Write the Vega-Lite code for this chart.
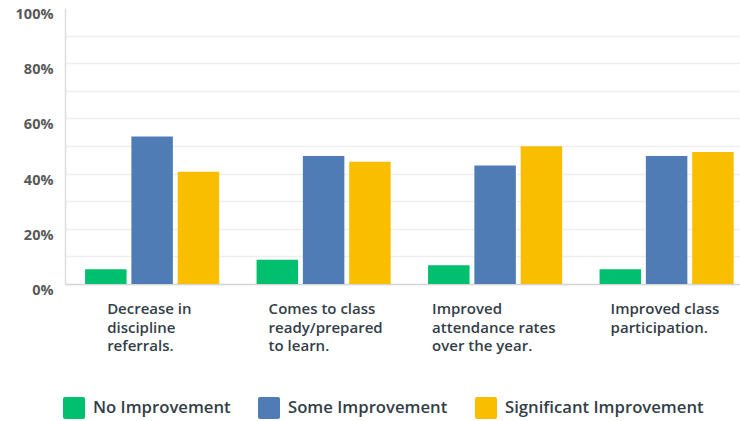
{
  "$schema": "https://vega.github.io/schema/vega-lite/v6.json",
  "width": 675,
  "height": 276,
  "autosize": {"type": "none"},
  "padding": {"left": 65, "top": 8, "right": 0, "bottom": 137},
  "background": "white",
  "config": {"view": {"stroke": null}, "font": "Open Sans"},
  "data": {
    "values": [
      {"item": "Decrease in discipline referrals.", "response": "No Improvement", "pct": 0.053},
      {"item": "Decrease in discipline referrals.", "response": "Some Improvement", "pct": 0.534},
      {"item": "Decrease in discipline referrals.", "response": "Significant Improvement", "pct": 0.407},
      {"item": "Comes to class ready/prepared to learn.", "response": "No Improvement", "pct": 0.088},
      {"item": "Comes to class ready/prepared to learn.", "response": "Some Improvement", "pct": 0.464},
      {"item": "Comes to class ready/prepared to learn.", "response": "Significant Improvement", "pct": 0.443},
      {"item": "Improved attendance rates over the year.", "response": "No Improvement", "pct": 0.068},
      {"item": "Improved attendance rates over the year.", "response": "Some Improvement", "pct": 0.429},
      {"item": "Improved attendance rates over the year.", "response": "Significant Improvement", "pct": 0.499},
      {"item": "Improved class participation.", "response": "No Improvement", "pct": 0.053},
      {"item": "Improved class participation.", "response": "Some Improvement", "pct": 0.464},
      {"item": "Improved class participation.", "response": "Significant Improvement", "pct": 0.478}
    ]
  },
  "mark": {"type": "bar"},
  "encoding": {
    "x": {
      "field": "item",
      "type": "nominal",
      "sort": ["Decrease in discipline referrals.", "Comes to class ready/prepared to learn.", "Improved attendance rates over the year.", "Improved class participation."],
      "scale": {"paddingInner": 0.218, "paddingOuter": 0.077, "align": 0.76},
      "axis": {
        "title": null,
        "labelAngle": 0,
        "labelAlign": "left",
        "labelBaseline": "top",
        "labelPadding": 17.5,
        "labelFont": "Open Sans",
        "labelFontSize": 15,
        "labelFontWeight": 600,
        "labelColor": "#333e48",
        "labelLineHeight": 18.7,
        "labelLimit": 0,
        "labelExpr": "datum.value === 'Decrease in discipline referrals.' ? ['Decrease in','discipline','referrals.'] : datum.value === 'Comes to class ready/prepared to learn.' ? ['Comes to class','ready/prepared','to learn.'] : datum.value === 'Improved attendance rates over the year.' ? ['Improved','attendance rates','over the year.'] : ['Improved class','participation.']",
        "labelOffset": {
          "condition": [
            {"test": "datum.value === 'Decrease in discipline referrals.'", "value": -45},
            {"test": "datum.value === 'Comes to class ready/prepared to learn.'", "value": -55},
            {"test": "datum.value === 'Improved attendance rates over the year.'", "value": -63}
          ],
          "value": -56
        },
        "ticks": false,
        "domainColor": "#d5d5d5",
        "domainWidth": 1.5,
        "grid": false
      }
    },
    "xOffset": {
      "field": "response",
      "type": "nominal",
      "sort": ["No Improvement", "Some Improvement", "Significant Improvement"],
      "scale": {"paddingInner": 0.104, "paddingOuter": 0}
    },
    "y": {
      "field": "pct",
      "type": "quantitative",
      "scale": {"domain": [0, 1]},
      "axis": {
        "title": null,
        "values": [0, 0.1, 0.2, 0.3, 0.4, 0.5, 0.6, 0.7, 0.8, 0.9, 1],
        "format": "%",
        "labelExpr": "round(datum.value * 100) % 20 === 0 ? datum.label : ''",
        "labelOverlap": false,
        "ticks": false,
        "labelPadding": 12,
        "labelFont": "Open Sans",
        "labelFontSize": 14.5,
        "labelFontWeight": "bold",
        "labelColor": "#595959",
        "labelOffset": 6.5,
        "gridColor": "#eeeeee",
        "gridWidth": 1.5,
        "gridOpacity": {"condition": {"test": "datum.value >= 1", "value": 0}, "value": 1},
        "domainColor": "#dddddd",
        "domainWidth": 1.5
      }
    },
    "color": {
      "field": "response",
      "type": "nominal",
      "scale": {
        "domain": ["No Improvement", "Some Improvement", "Significant Improvement"],
        "range": ["#00bf6f", "#507cb6", "#f9be00"]
      },
      "legend": {
        "title": null,
        "orient": "none",
        "legendX": -2,
        "legendY": 389,
        "direction": "horizontal",
        "symbolType": "M-0.82,-1H0.82Q1,-1,1,-0.82V0.82Q1,1,0.82,1H-0.82Q-1,1,-1,0.82V-0.82Q-1,-1,-0.82,-1Z",
        "symbolSize": 484,
        "symbolStrokeWidth": 0,
        "symbolOpacity": 1,
        "labelFont": "Open Sans",
        "labelFontSize": 16.7,
        "labelFontWeight": 600,
        "labelColor": "#333e48",
        "labelOffset": 8,
        "labelLimit": 0,
        "columnPadding": 27
      }
    }
  }
}
